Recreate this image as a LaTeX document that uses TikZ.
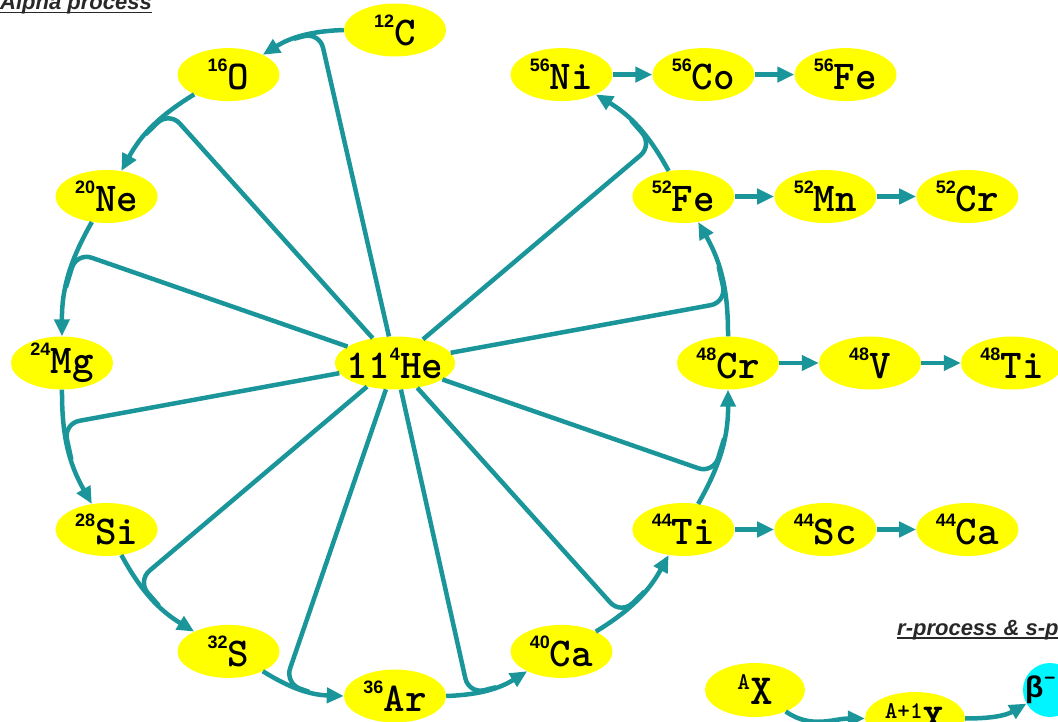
\documentclass[tikz,border=0pt]{standalone}
\usepackage{fontspec}
\setmainfont{Liberation Sans}
\newfontfamily\elfont{lmmonolt10-bold.otf}
\newfontfamily\supfont{Liberation Sans}
\usetikzlibrary{shapes.geometric,arrows.meta}
\definecolor{tealA}{RGB}{26,150,154}
\definecolor{nucY}{RGB}{255,255,0}
\definecolor{betaC}{RGB}{0,245,255}
\definecolor{capG}{RGB}{40,40,40}
\newcommand\iso[2]{\raisebox{18pt}{\fontsize{18}{18}\supfont\bfseries #1}{\fontsize{41}{41}\elfont #2}}
\newcommand\isob[2]{\raisebox{15pt}{\fontsize{24}{24}\elfont #1}{\fontsize{43}{43}\elfont #2}}
\begin{document}
\begin{tikzpicture}[x=1pt,y=1pt,
  nuc/.style={ellipse, fill=nucY, minimum width=102pt, minimum height=53pt, inner sep=0pt},
  lbl/.style={inner sep=0pt},
  chain/.style={line width=4.5pt, draw=tealA, -{Triangle[length=17pt,width=15pt]}},
  heline/.style={line width=4.5pt, draw=tealA, rounded corners=16pt},
  captxt/.style={anchor=base west, inner sep=0pt, text=capG, font=\fontsize{22}{22}\selectfont\bfseries\itshape},
  uline/.style={line width=1.6pt, draw=capG}]
\useasboundingbox (0,0) rectangle (1058,721);
\clip (0,0) rectangle (1058,721);

% ellipses
\node[nuc] (c12)  at (395,691) {};
\node[nuc] (o16)  at (228.5,646.4) {};
\node[nuc] (ne20) at (106.6,524.5) {};
\node[nuc] (mg24) at (62,358) {};
\node[nuc] (si28) at (106.6,191.5) {};
\node[nuc] (s32)  at (228.5,69.6) {};
\node[nuc] (ar36) at (395,25) {};
\node[nuc] (ca40) at (561.5,69.6) {};
\node[nuc] (ti44) at (683.4,191.5) {};
\node[nuc] (cr48) at (728,358) {};
\node[nuc] (fe52) at (683.4,524.5) {};
\node[nuc] (ni56) at (561.5,646.4) {};
\node[nuc] (co56) at (703.5,646.4) {};
\node[nuc] (fe56) at (845.5,646.4) {};
\node[nuc] (mn52) at (825.4,524.5) {};
\node[nuc] (cr52) at (967.4,524.5) {};
\node[nuc] (v48)  at (870,358) {};
\node[nuc] (ti48) at (1012,358) {};
\node[nuc] (sc44) at (825.4,191.5) {};
\node[nuc] (ca44) at (967.4,191.5) {};
\node[nuc, minimum width=120pt] (he) at (395,358) {};
\node[nuc, minimum width=100pt, minimum height=54pt] (ax) at (755,31) {};
\node[nuc, minimum width=100pt] (ap1) at (915,2.5) {};
\node[circle, fill=betaC, minimum size=54pt, inner sep=0pt] (bet) at (1050,31) {};

% labels
\node[lbl] (c12t)  at (c12)  {\iso{12}{C}};
\node[lbl] (o16t)  at (o16)  {\iso{16}{O}};
\node[lbl] (ne20t) at (ne20) {\iso{20}{Ne}};
\node[lbl] (mg24t) at (mg24) {\iso{24}{Mg}};
\node[lbl] (si28t) at (si28) {\iso{28}{Si}};
\node[lbl] (s32t)  at (s32)  {\iso{32}{S}};
\node[lbl] (ar36t) at (ar36) {\iso{36}{Ar}};
\node[lbl] (ca40t) at (ca40) {\iso{40}{Ca}};
\node[lbl] (ti44t) at (ti44) {\iso{44}{Ti}};
\node[lbl] (cr48t) at (cr48) {\iso{48}{Cr}};
\node[lbl] (fe52t) at (fe52) {\iso{52}{Fe}};
\node[lbl] (ni56t) at (ni56) {\iso{56}{Ni}};
\node[lbl] (co56t) at (co56) {\iso{56}{Co}};
\node[lbl] (fe56t) at (fe56) {\iso{56}{Fe}};
\node[lbl] (mn52t) at (mn52) {\iso{52}{Mn}};
\node[lbl] (cr52t) at (cr52) {\iso{52}{Cr}};
\node[lbl] (v48t)  at (v48)  {\iso{48}{V}};
\node[lbl] (ti48t) at (ti48) {\iso{48}{Ti}};
\node[lbl] (sc44t) at (sc44) {\iso{44}{Sc}};
\node[lbl] (ca44t) at (ca44) {\iso{44}{Ca}};
\node[lbl] (het) at (he) {{\fontsize{41}{41}\elfont 11}\raisebox{18pt}{\fontsize{18}{18}\supfont\bfseries 4}{\fontsize{41}{41}\elfont He}};
\node[lbl] (axt) at (ax) {\isob{A}{X}};
\node[lbl] (ap1t) at (ap1) {\isob{A+1}{X}};
\node[lbl, anchor=west] (bett) at (1025,31) {{\fontsize{30}{30}\supfont\bfseries β}\raisebox{12pt}{\fontsize{24}{24}\elfont -}};

% alpha chain
\draw[chain] (c12)  to[bend right=15] coordinate[pos=.27] (j1)  coordinate[pos=.6] (k1)  (o16);
\draw[chain] (o16)  to[bend right=15] coordinate[pos=.27] (j2)  coordinate[pos=.6] (k2)  (ne20);
\draw[chain] (ne20) to[bend right=15] coordinate[pos=.27] (j3)  coordinate[pos=.6] (k3)  (mg24);
\draw[chain] (mg24) to[bend right=15] coordinate[pos=.27] (j4)  coordinate[pos=.6] (k4)  (si28);
\draw[chain] (si28) to[bend right=15] coordinate[pos=.27] (j5)  coordinate[pos=.6] (k5)  (s32);
\draw[chain] (s32)  to[bend right=15] coordinate[pos=.28] (j6)  coordinate[pos=.6] (k6)  (ar36);
\draw[chain] (ar36) to[bend right=15] coordinate[pos=.25] (j7)  coordinate[pos=.6] (k7)  (ca40);
\draw[chain] (ca40) to[bend right=15] coordinate[pos=.27] (j8)  coordinate[pos=.6] (k8)  (ti44);
\draw[chain] (ti44) to[bend right=15] coordinate[pos=.27] (j9)  coordinate[pos=.6] (k9)  (cr48);
\draw[chain] (cr48) to[bend right=15] coordinate[pos=.27] (j10) coordinate[pos=.6] (k10) (fe52);
\draw[chain] (fe52) to[bend right=15] coordinate[pos=.27] (j11) coordinate[pos=.6] (k11) (ni56);

% helium captures
\draw[heline] (he) -- (j1)  -- (k1);
\draw[heline] (he) -- (j2)  -- (k2);
\draw[heline] (he) -- (j3)  -- (k3);
\draw[heline] (he) -- (j4)  -- (k4);
\draw[heline] (he) -- (j5)  -- (k5);
\draw[heline] (he) -- (j6)  -- (k6);
\draw[heline] (he) -- (j7)  -- (k7);
\draw[heline] (he) -- (j8)  -- (k8);
\draw[heline] (he) -- (j9)  -- (k9);
\draw[heline] (he) -- (j10) -- (k10);
\draw[heline] (he) -- (j11) -- (k11);

% decay chains
\draw[chain] (ni56) -- (co56);
\draw[chain] (co56) -- (fe56);
\draw[chain] (fe52) -- (mn52);
\draw[chain] (mn52) -- (cr52);
\draw[chain] (cr48) -- (v48);
\draw[chain] (v48)  -- (ti48);
\draw[chain] (ti44) -- (sc44);
\draw[chain] (sc44) -- (ca44);

% r-process & s-process
\draw[chain] (ax)  to[out=-35, in=180] (ap1);
\draw[chain] (ap1) to[out=0, in=210] (bet);

% captions
\node[captxt] (title) at (0,711.5) {Alpha process};
\draw[uline] ([yshift=-3pt]title.base west) -- ([yshift=-3pt]title.base east);
\node[captxt] (rs) at (897,86) {r-process \& s-process};
\draw[uline] ([yshift=-3pt]rs.base west) -- ([yshift=-3pt]rs.base east);
\end{tikzpicture}
\end{document}
